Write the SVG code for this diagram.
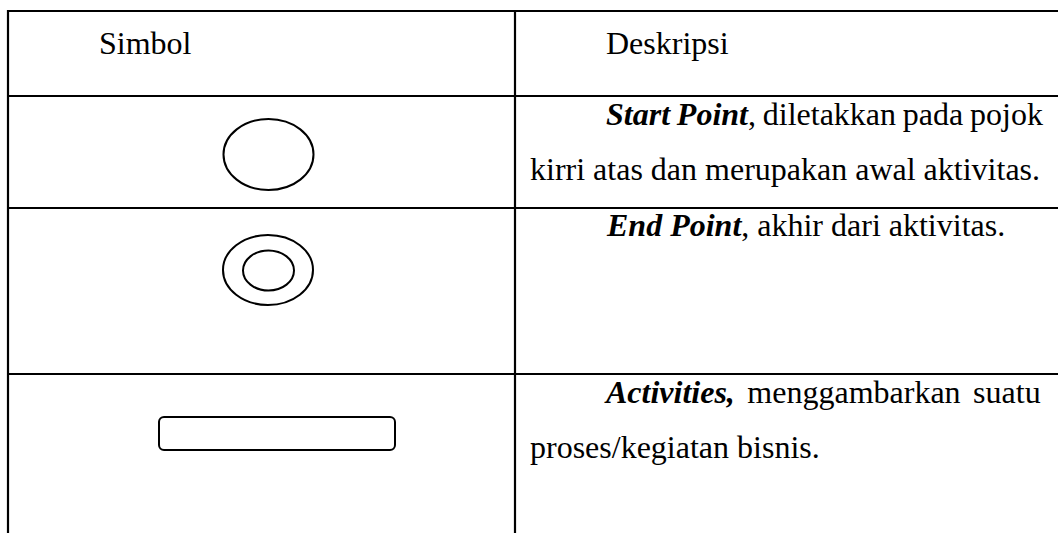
<svg xmlns="http://www.w3.org/2000/svg" width="1058" height="533" viewBox="0 0 1058 533">
<style>
.grid{stroke:#000;stroke-width:2.2;fill:none}
.shape{stroke:#000;stroke-width:2;fill:none}
text{font-family:"Liberation Serif","Times New Roman",serif;font-size:32px;fill:#000}
.bi{font-weight:bold;font-style:italic}
</style>
<rect width="1058" height="533" fill="#fff"/>
<g id="table-lines">
<line class="grid" x1="7" y1="11" x2="1058" y2="11"/>
<line class="grid" x1="7" y1="96" x2="1058" y2="96"/>
<line class="grid" x1="7" y1="208" x2="1058" y2="208"/>
<line class="grid" x1="7" y1="374" x2="1058" y2="374"/>
<line class="grid" x1="8" y1="10" x2="8" y2="533"/>
<line class="grid" x1="515" y1="10" x2="515" y2="533"/>
</g>
<g id="header">
<text x="99" y="54">Simbol</text>
<text x="606" y="54">Deskripsi</text>
</g>
<g id="start-point">
<ellipse class="shape" cx="268.5" cy="154.5" rx="45" ry="35.5"/>
<text x="606" y="125" word-spacing="-1.2"><tspan class="bi">Start Point</tspan>, diletakkan pada pojok</text>
<text x="530" y="180">kirri atas dan merupakan awal aktivitas.</text>
</g>
<g id="end-point">
<ellipse class="shape" cx="268" cy="270" rx="45" ry="35"/>
<ellipse class="shape" cx="268.5" cy="270.5" rx="25.5" ry="20"/>
<text x="607" y="236"><tspan class="bi">End Point</tspan>, akhir dari aktivitas.</text>
</g>
<g id="activities">
<rect class="shape" x="159" y="417" width="236" height="33" rx="5"/>
<text x="606" y="403" word-spacing="4.5"><tspan class="bi">Activities,</tspan> menggambarkan suatu</text>
<text x="530" y="458">proses/kegiatan bisnis.</text>
</g>
</svg>
